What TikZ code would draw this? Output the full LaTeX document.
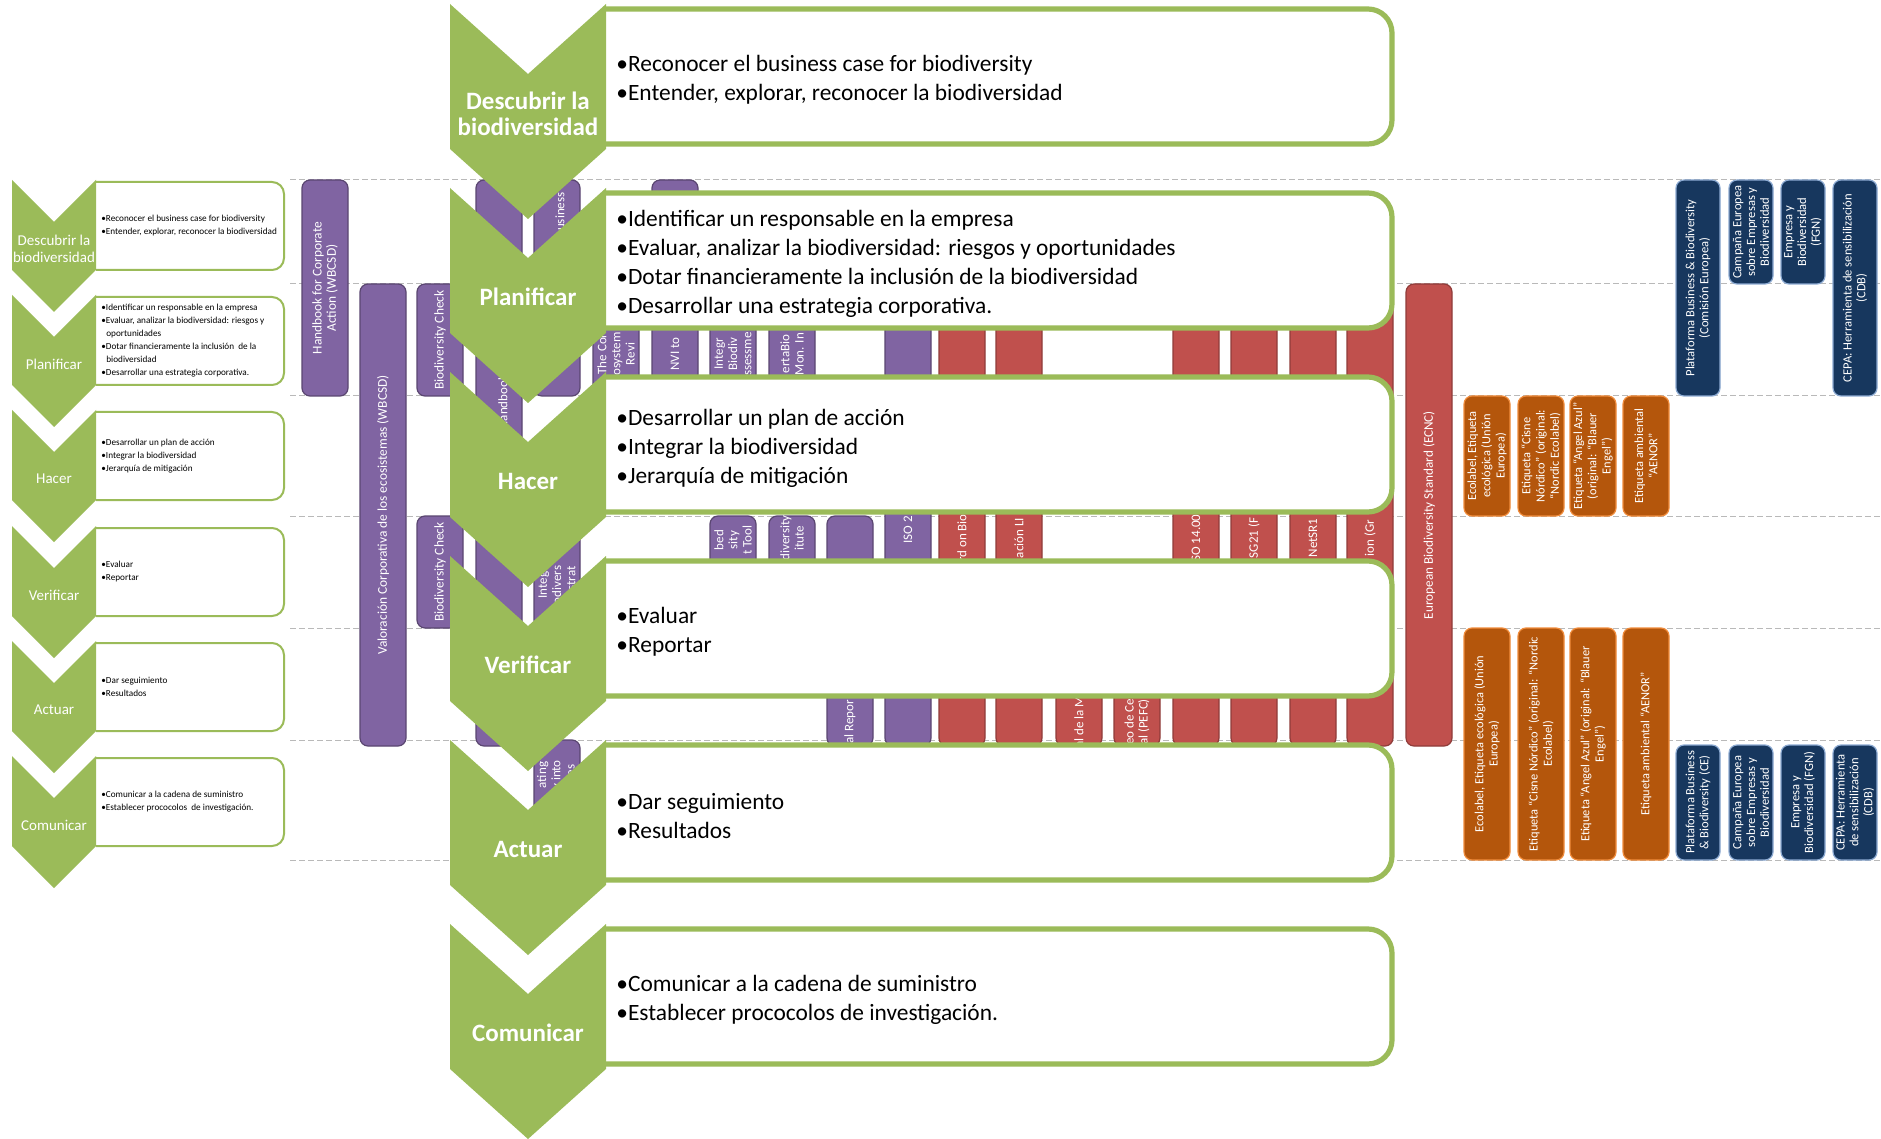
\documentclass[tikz,border=0pt]{standalone}
\usepackage{fontspec}
\setmainfont{Carlito}
\usepackage{tikz}
\usetikzlibrary{positioning}
\usepackage{xcolor}

\definecolor{chevgreen}{RGB}{155,187,89}
\definecolor{toolpurple}{RGB}{128,100,162}
\definecolor{toolred}{RGB}{192,80,77}
\definecolor{labelorange}{RGB}{180,86,12}
\definecolor{labeledge}{RGB}{240,140,60}
\definecolor{campnavy}{RGB}{23,55,94}
\definecolor{campedge}{RGB}{140,170,210}

\tikzset{
	dashrow/.style={gray!55, line width=0.5pt, dash pattern=on 3pt off 1.5pt},
	chevron/.style={fill=chevgreen},
	bigbox/.style={draw=chevgreen, line width=2.6pt, fill=white, rounded corners=12pt},
	smallbox/.style={draw=chevgreen, line width=1pt, fill=white, rounded corners=6pt},
	biglabel/.style={text=white, align=center, inner sep=0pt, font=\bfseries\fontsize{12.5}{13}\selectfont},
	smalllabel/.style={text=white, align=center, inner sep=0pt, font=\fontsize{7.5}{8.5}\selectfont},
	bigitems/.style={anchor=west, align=left, inner sep=0pt, font=\fontsize{11.7}{14.5}\selectfont},
	smallitems/.style={anchor=west, align=left, inner sep=0pt, font=\fontsize{4.6}{6.5}\selectfont},
	toolbar/.style={rotate=90, rounded corners=4pt, inner sep=1pt, text=white, align=center,
		minimum height=23pt, line width=0.6pt},
	purplebar/.style={toolbar, fill=toolpurple, draw=toolpurple!70!black, font=\fontsize{6.7}{7.2}\selectfont},
	redbar/.style={toolbar, fill=toolred, draw=toolred!75!black, font=\fontsize{6.6}{7.2}\selectfont},
	labelbar/.style={toolbar, fill=labelorange, draw=labeledge, font=\fontsize{6.2}{7.1}\selectfont},
	campbar/.style={toolbar, fill=campnavy, draw=campedge, minimum height=22pt, font=\fontsize{6.3}{6.9}\selectfont},
	frag/.style={rotate=90, text=white, align=center, inner sep=0pt, font=\fontsize{6.5}{7.1}\selectfont},
}

% style, name, x, top, bottom, text
\newcommand{\toolnode}[6]{\node[#1, minimum width={(#5-#4)*0.5pt}] (#2) at (#3,{(#4+#5)/2}) {#6};}

\begin{document}
\begin{tikzpicture}[x=0.5pt, y=-0.5pt]
	\useasboundingbox (0,0) rectangle (1881,1139);
	\fill[white] (0,0) rectangle (1881,1139);
	
	%dashed rows
	\draw[dashrow] (290,180) -- (1881,180);
	\draw[dashrow] (290,284) -- (1881,284);
	\draw[dashrow] (290,396) -- (1881,396);
	\draw[dashrow] (290,516) -- (1881,516);
	\draw[dashrow] (290,628) -- (1881,628);
	\draw[dashrow] (290,740) -- (1881,740);
	\draw[dashrow] (290,860) -- (1881,860);
	
	%purple tools
	\toolnode{purplebar}{hbca}{325}{180}{396}{Handbook for Corporate\\Action (WBCSD)}
	\toolnode{purplebar}{valor}{383}{284}{746}{Valoración Corporativa de los ecosistemas (WBCSD)}
	\toolnode{purplebar}{bcheckA}{440}{284}{396}{Biodiversity Check}
	\toolnode{purplebar}{bcheckB}{440}{516}{628}{Biodiversity Check}
	\toolnode{purplebar}{hbA}{499}{180}{516}{}
	\toolnode{purplebar}{hbB}{499}{516}{746}{}
	\toolnode{purplebar}{ibA}{557}{180}{396}{}
	\toolnode{purplebar}{ibB}{557}{516}{628}{}
	\toolnode{purplebar}{ibC}{557}{740}{860}{}
	\toolnode{purplebar}{cesr}{616}{284}{396}{}
	\toolnode{purplebar}{nvi}{675}{180}{396}{}
	\toolnode{purplebar}{ibatA}{733}{284}{396}{}
	\toolnode{purplebar}{ibatB}{733}{516}{628}{}
	\toolnode{purplebar}{alertA}{792}{284}{396}{}
	\toolnode{purplebar}{alertB}{792}{516}{628}{}
	\toolnode{purplebar}{gri}{850}{516}{746}{}
	\toolnode{purplebar}{iso26}{908}{284}{746}{}
	
	%red tools
	\toolnode{redbar}{stdbio}{962}{284}{746}{}
	\toolnode{redbar}{life}{1019}{284}{746}{}
	\toolnode{redbar}{madera}{1079}{628}{746}{}
	\toolnode{redbar}{pefc}{1137}{628}{746}{}
	\toolnode{redbar}{iso14}{1196}{284}{746}{}
	\toolnode{redbar}{sge}{1254}{284}{746}{}
	\toolnode{redbar}{iqnet}{1313}{284}{746}{}
	\toolnode{redbar}{green}{1370}{284}{746}{}
	\toolnode{redbar}{ebs}{1429}{284}{746}{European Biodiversity Standard (ECNC)}
	
	%visible pieces of the covered tools
	\node[frag] (f-hb) at (503,402) {Handbook};
	\node[frag] (f-ib) at (560,220) {o business};
	\node[frag] (f-ibB) at (557,585) {Integ\\odivers\\ss strat};
	\node[frag] (f-ibC) at (557,775) {ating\\y into\\gies};
	\node[frag] (f-cesr) at (616,354) {The Cor\\osystem\\Revi};
	\node[frag] (f-nvi) at (675,354) {NVI to};
	\node[frag] (f-ibatA) at (733,354) {Integr\\Biodiv\\ssessme};
	\node[frag] (f-ibatB) at (733,540) {bed\\sity\\t Tool};
	\node[frag] (f-alertA) at (792,354) {ertaBio\\Mon. In};
	\node[frag] (f-alertB) at (792,538) {diversity\\itute};
	\node[frag] (f-gri) at (850,722) {al Repor};
	\node[frag] (f-iso26) at (908,530) {ISO 2};
	\node[frag] (f-stdbio) at (962,538) {rd on Bio};
	\node[frag] (f-life) at (1019,538) {ación LI};
	\node[frag] (f-madera) at (1079,722) {al de la M};
	\node[frag] (f-pefc) at (1137,722) {eo de Ce\\al (PEFC)};
	\node[frag] (f-iso14) at (1196,538) {SO 14.00};
	\node[frag] (f-sge) at (1254,538) {SG21 (F};
	\node[frag] (f-iqnet) at (1313,538) {NetSR1};
	\node[frag] (f-green) at (1370,538) {ion (Gr};
	
	%ecolabels
	\toolnode{labelbar}{ecoA}{1487}{396}{516}{Ecolabel, Etiqueta\\ecológica (Unión\\Europea)}
	\toolnode{labelbar}{cisneA}{1541}{396}{516}{Etiqueta “Cisne\\Nórdico” (original:\\“Nordic Ecolabel)}
	\toolnode{labelbar}{angelA}{1593}{396}{516}{Etiqueta “Angel Azul”\\(original: “Blauer\\Engel”)}
	\toolnode{labelbar}{aenorA}{1646}{396}{516}{Etiqueta ambiental\\“AENOR”}
	\toolnode{labelbar}{ecoB}{1487}{628}{860}{Ecolabel, Etiqueta ecológica (Unión\\Europea)}
	\toolnode{labelbar}{cisneB}{1541}{628}{860}{Etiqueta “Cisne Nórdico” (original: “Nordic\\Ecolabel)}
	\toolnode{labelbar}{angelB}{1593}{628}{860}{Etiqueta “Angel Azul” (original: “Blauer\\Engel”)}
	\toolnode{labelbar}{aenorB}{1646}{628}{860}{Etiqueta ambiental “AENOR”}
	
	%campaigns
	\toolnode{campbar}{platA}{1698}{180}{396}{Plataforma Business \& Biodiversity\\(Comisión Europea)}
	\toolnode{campbar}{campA}{1751}{180}{284}{Campaña Europea\\sobre Empresas y\\Biodiversidad}
	\toolnode{campbar}{fgnA}{1803}{180}{284}{Empresa y\\Biodiversidad\\(FGN)}
	\toolnode{campbar}{cepaA}{1855}{180}{396}{CEPA: Herramienta de sensibilización\\(CDB)}
	\toolnode{campbar}{platB}{1698}{745}{860}{Plataforma Business\\\& Biodiversity (CE)}
	\toolnode{campbar}{campB}{1751}{745}{860}{Campaña Europea\\sobre Empresas y\\Biodiversidad}
	\toolnode{campbar}{fgnB}{1803}{745}{860}{Empresa y\\Biodiversidad (FGN)}
	\toolnode{campbar}{cepaB}{1855}{745}{860}{CEPA: Herramienta\\de sensibilización\\(CDB)}
	
	%small list
	\filldraw[smallbox] (96,182) -- (284,182) -- (284,270) -- (96,270);
	\filldraw[smallbox] (96,297) -- (284,297) -- (284,385) -- (96,385);
	\filldraw[smallbox] (96,412) -- (284,412) -- (284,500) -- (96,500);
	\filldraw[smallbox] (96,528) -- (284,528) -- (284,616) -- (96,616);
	\filldraw[smallbox] (96,643) -- (284,643) -- (284,731) -- (96,731);
	\filldraw[smallbox] (96,758) -- (284,758) -- (284,846) -- (96,846);
	
	\fill[chevron] (12,180) -- (54,222) -- (96,180) -- (96,270) -- (54,312) -- (12,270) -- cycle;
	\fill[chevron] (12,295) -- (54,337) -- (96,295) -- (96,385) -- (54,427) -- (12,385) -- cycle;
	\fill[chevron] (12,410) -- (54,452) -- (96,410) -- (96,500) -- (54,542) -- (12,500) -- cycle;
	\fill[chevron] (12,526) -- (54,568) -- (96,526) -- (96,616) -- (54,658) -- (12,616) -- cycle;
	\fill[chevron] (12,641) -- (54,683) -- (96,641) -- (96,731) -- (54,773) -- (12,731) -- cycle;
	\fill[chevron] (12,756) -- (54,798) -- (96,756) -- (96,846) -- (54,888) -- (12,846) -- cycle;
	
	\node[smalllabel] (sdesc) at (54,249) {Descubrir la\\biodiversidad};
	\node[smalllabel] (splan) at (54,364) {Planificar};
	\node[smalllabel] (shacer) at (54,479) {Hacer};
	\node[smalllabel] (sver) at (54,595) {Verificar};
	\node[smalllabel] (sact) at (54,710) {Actuar};
	\node[smalllabel] (scom) at (54,825) {Comunicar};
	
	\node[smallitems] (idesc) at (101,226) {•Reconocer el business case for biodiversity\\•Entender, explorar, reconocer la biodiversidad};
	\node[smallitems] (iplan) at (101,341) {•Identificar un responsable en la empresa\\•Evaluar, analizar la biodiversidad: riesgos y\\\hspace*{2.5pt}oportunidades\\•Dotar financieramente la inclusión\ \ de la\\\hspace*{2.5pt}biodiversidad\\•Desarrollar una estrategia corporativa.};
	\node[smallitems] (ihacer) at (101,456) {•Desarrollar un plan de acción\\•Integrar la biodiversidad\\•Jerarquía de mitigación};
	\node[smallitems] (iver) at (101,572) {•Evaluar\\•Reportar};
	\node[smallitems] (iact) at (101,687) {•Dar seguimiento\\•Resultados};
	\node[smallitems] (icom) at (101,802) {•Comunicar a la cadena de suministro\\•Establecer prococolos\ \ de investigación.};
	
	%big list
	\filldraw[bigbox] (606,9) -- (1392,9) -- (1392,144) -- (606,144);
	\filldraw[bigbox] (606,193) -- (1392,193) -- (1392,328) -- (606,328);
	\filldraw[bigbox] (606,377) -- (1392,377) -- (1392,512) -- (606,512);
	\filldraw[bigbox] (606,561) -- (1392,561) -- (1392,696) -- (606,696);
	\filldraw[bigbox] (606,745) -- (1392,745) -- (1392,880) -- (606,880);
	\filldraw[bigbox] (606,929) -- (1392,929) -- (1392,1064) -- (606,1064);
	
	\fill[chevron] (450,4) -- (528,74) -- (606,4) -- (606,149) -- (528,219) -- (450,149) -- cycle;
	\fill[chevron] (450,188) -- (528,258) -- (606,188) -- (606,333) -- (528,403) -- (450,333) -- cycle;
	\fill[chevron] (450,372) -- (528,442) -- (606,372) -- (606,517) -- (528,587) -- (450,517) -- cycle;
	\fill[chevron] (450,556) -- (528,626) -- (606,556) -- (606,701) -- (528,771) -- (450,701) -- cycle;
	\fill[chevron] (450,740) -- (528,810) -- (606,740) -- (606,885) -- (528,955) -- (450,885) -- cycle;
	\fill[chevron] (450,924) -- (528,994) -- (606,924) -- (606,1069) -- (528,1139) -- (450,1069) -- cycle;
	
	\node[biglabel] (bdesc) at (528,114) {Descubrir la\\biodiversidad};
	\node[biglabel] (bplan) at (528,297) {Planificar};
	\node[biglabel] (bhacer) at (528,481) {Hacer};
	\node[biglabel] (bver) at (528,665) {Verificar};
	\node[biglabel] (bact) at (528,849) {Actuar};
	\node[biglabel] (bcom) at (528,1033) {Comunicar};
	
	\node[bigitems] (tdesc) at (616,80) {•Reconocer el business case for biodiversity\\•Entender, explorar, reconocer la biodiversidad};
	\node[bigitems] (tplan) at (616,264) {•Identificar un responsable en la empresa\\•Evaluar, analizar la biodiversidad: riesgos y oportunidades\\•Dotar financieramente la inclusión de la biodiversidad\\•Desarrollar una estrategia corporativa.};
	\node[bigitems] (thacer) at (616,448) {•Desarrollar un plan de acción\\•Integrar la biodiversidad\\•Jerarquía de mitigación};
	\node[bigitems] (tver) at (616,632) {•Evaluar\\•Reportar};
	\node[bigitems] (tact) at (616,816) {•Dar seguimiento\\•Resultados};
	\node[bigitems] (tcom) at (616,1000) {•Comunicar a la cadena de suministro\\•Establecer prococolos de investigación.};
	
\end{tikzpicture}
\end{document}
